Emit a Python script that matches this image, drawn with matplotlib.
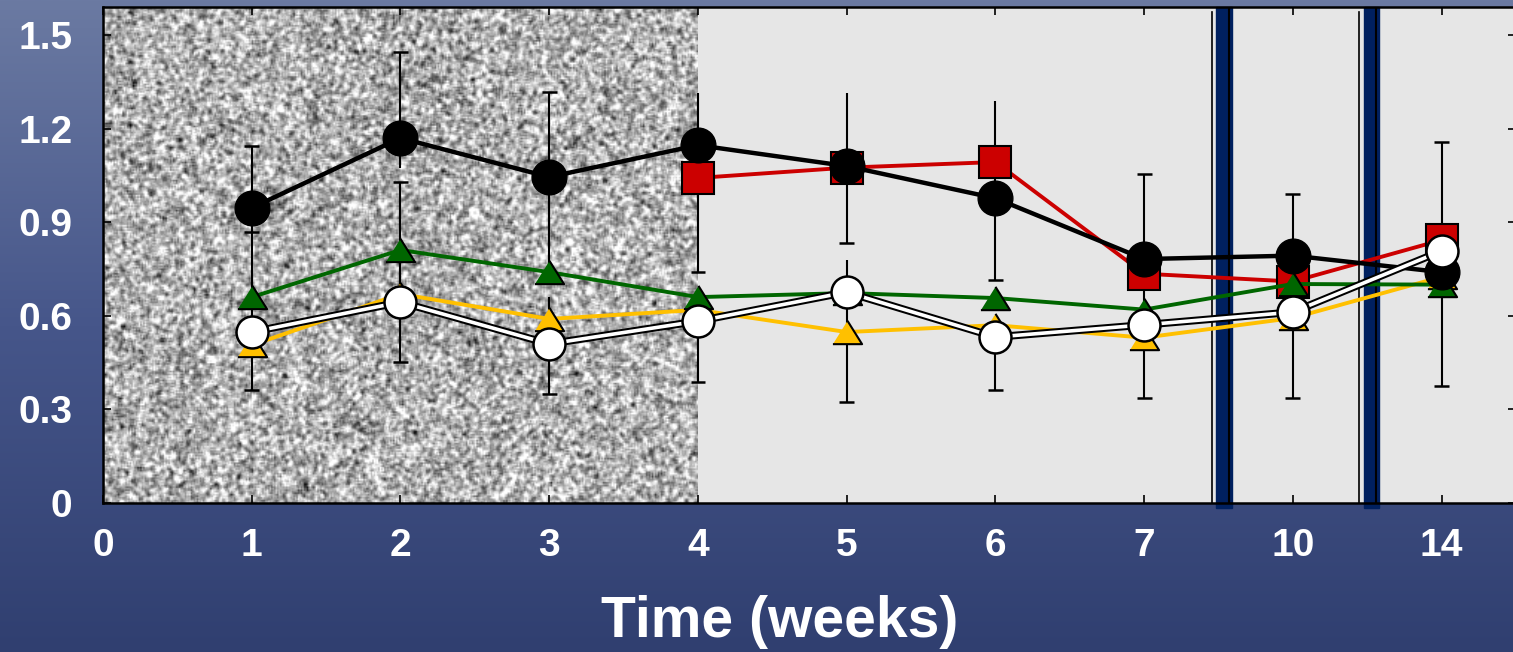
#!/usr/bin/env python3
"""
Time course of five groups over 14 weeks, slide-style layout
"""

import numpy as np
import matplotlib
matplotlib.use('Agg')
import matplotlib.pyplot as plt
from matplotlib.colors import LinearSegmentedColormap

plt.rcParams['font.family'] = ['Liberation Sans', 'DejaVu Sans']
plt.rcParams['font.weight'] = 'bold'

# ---- data ----
week_labels = ['0', '1', '2', '3', '4', '5', '6', '7', '10', '14']
x_all = [1, 2, 3, 4, 5, 6, 7, 8, 9]          # category index of weeks 1..14
x_red = [4, 5, 6, 7, 8, 9]                   # weeks 4..14

black_vals = [0.946, 1.170, 1.045, 1.147, 1.080, 0.977, 0.782, 0.793, 0.740]
red_vals = [1.042, 1.075, 1.093, 0.735, 0.710, 0.843]
green_vals = [0.660, 0.811, 0.740, 0.660, 0.673, 0.657, 0.620, 0.702, 0.700]
yellow_vals = [0.506, 0.670, 0.590, 0.619, 0.548, 0.570, 0.530, 0.593, 0.725]
white_vals = [0.548, 0.644, 0.510, 0.583, 0.676, 0.532, 0.571, 0.612, 0.808]

# error bar segments (x index, top, bottom) and visible caps
err_x = [1, 1, 2, 2, 3, 3, 4, 4, 5, 5, 6, 6, 7, 8, 9]
err_top = [1.144, 0.946, 1.446, 1.029, 1.317, 0.660, 1.314, 0.583, 1.314, 0.779,
           1.288, 0.600, 1.054, 0.990, 1.157]
err_bot = [0.946, 0.362, 1.074, 0.452, 0.740, 0.349, 0.740, 0.388, 0.833, 0.324,
           0.715, 0.362, 0.336, 0.336, 0.375]
cap_x = [1, 1, 1, 2, 2, 2, 3, 3, 4, 4, 5, 5, 6, 6, 7, 7, 8, 8, 9, 9]
cap_y = [1.144, 0.869, 0.362, 1.446, 1.029, 0.452, 1.317, 0.349, 0.740, 0.388,
         0.833, 0.324, 0.715, 0.362, 1.054, 0.336, 0.990, 0.336, 1.157, 0.375]

# axis-break positions (category index)
break_x = [7.53, 8.52]

W, H = 1513, 652
fig = plt.figure(figsize=(W / 100, H / 100), dpi=100)

# slide background gradient
bg = fig.add_axes([0, 0, 1, 1], zorder=-10)
grad_cmap = LinearSegmentedColormap.from_list('slide', ['#6b7aa2', '#46568a', '#303f70'])
grad = np.linspace(0, 1, 256).reshape(-1, 1)
bg.imshow(grad, aspect='auto', cmap=grad_cmap, extent=(0, 1, 0, 1))
bg.axis('off')

ymax = 1.59
ax = fig.add_axes([103 / W, 1 - 503 / H, 1413 / W, 496 / H])
ax.set_facecolor('#e6e6e6')

# grainy grey texture behind weeks 0-4 (decoration only)
rng = np.random.default_rng(7)
tex = rng.normal(size=(330, 400))
tex = sum(np.roll(np.roll(tex, i, 0), j, 1) for i in (-1, 0, 1) for j in (-1, 0, 1)) / 9
ax.imshow(tex, cmap='gray', vmin=-1.4, vmax=0.62, extent=(0, 4, 0, ymax),
          aspect='auto', interpolation='bilinear', zorder=0.5)

# axis breaks
for bx in break_x:
    ax.axvline(bx - 0.075, ymin=0, ymax=0.99, color='black', lw=1.2, zorder=1)
    ax.axvspan(bx - 0.045, bx + 0.06, ymin=-0.01, ymax=1, color='#00205f',
               zorder=1, clip_on=False)
    ax.axvline(bx + 0.04, color='black', lw=1.5, zorder=1)

# error bars
ax.vlines(err_x, err_bot, err_top, color='black', lw=1.5, zorder=2)
ax.hlines(cap_y, np.array(cap_x) - 0.05, np.array(cap_x) + 0.05,
          color='black', lw=1.8, zorder=2)

tri = [(-1, -0.8), (1, -0.8), (0, 0.8)]

ax.plot(x_red, red_vals, color='#cc0000', lw=2.8, marker='s', ms=23,
        mfc='#cc0000', mec='black', mew=1.5, zorder=3)
ax.plot(x_all, yellow_vals, color='#ffc000', lw=2.8, marker=tri, ms=21,
        mfc='#ffc000', mec='black', mew=1.5, zorder=4)
ax.plot(x_all, green_vals, color='#006600', lw=2.8, marker=tri, ms=21,
        mfc='#006600', mec='black', mew=1.5, zorder=5)
ax.plot(x_all, black_vals, color='black', lw=3.2, marker='o', ms=25,
        mfc='black', mec='black', zorder=6)
ax.plot(x_all, white_vals, color='black', lw=5.5, zorder=7)
ax.plot(x_all, white_vals, color='white', lw=2.6, marker='o', ms=23,
        mfc='white', mec='black', mew=1.8, zorder=7)

ax.set_xlim(0, 9.5)
ax.set_ylim(0, ymax)
ax.set_xticks(range(len(week_labels)))
ax.set_xticklabels(week_labels)
ax.set_yticks([0, 0.3, 0.6, 0.9, 1.2, 1.5])
ax.set_yticklabels(['0', '0.3', '0.6', '0.9', '1.2', '1.5'])
ax.tick_params(direction='in', length=6, width=1.2, color='black',
               top=True, right=True, labelcolor='white', labelsize=28)
ax.tick_params(axis='x', pad=18)
ax.tick_params(axis='y', pad=22)
for lab in ax.get_xticklabels() + ax.get_yticklabels():
    lab.set_fontweight('bold')
for sp in ax.spines.values():
    sp.set_linewidth(1.8)
    sp.set_color('black')

fig.text(780 / W, 1 - 622 / H, 'Time (weeks)', color='white', fontsize=41,
         fontweight='bold', ha='center', va='center')

fig.savefig('out.png', dpi=100)
print("saved out.png")
